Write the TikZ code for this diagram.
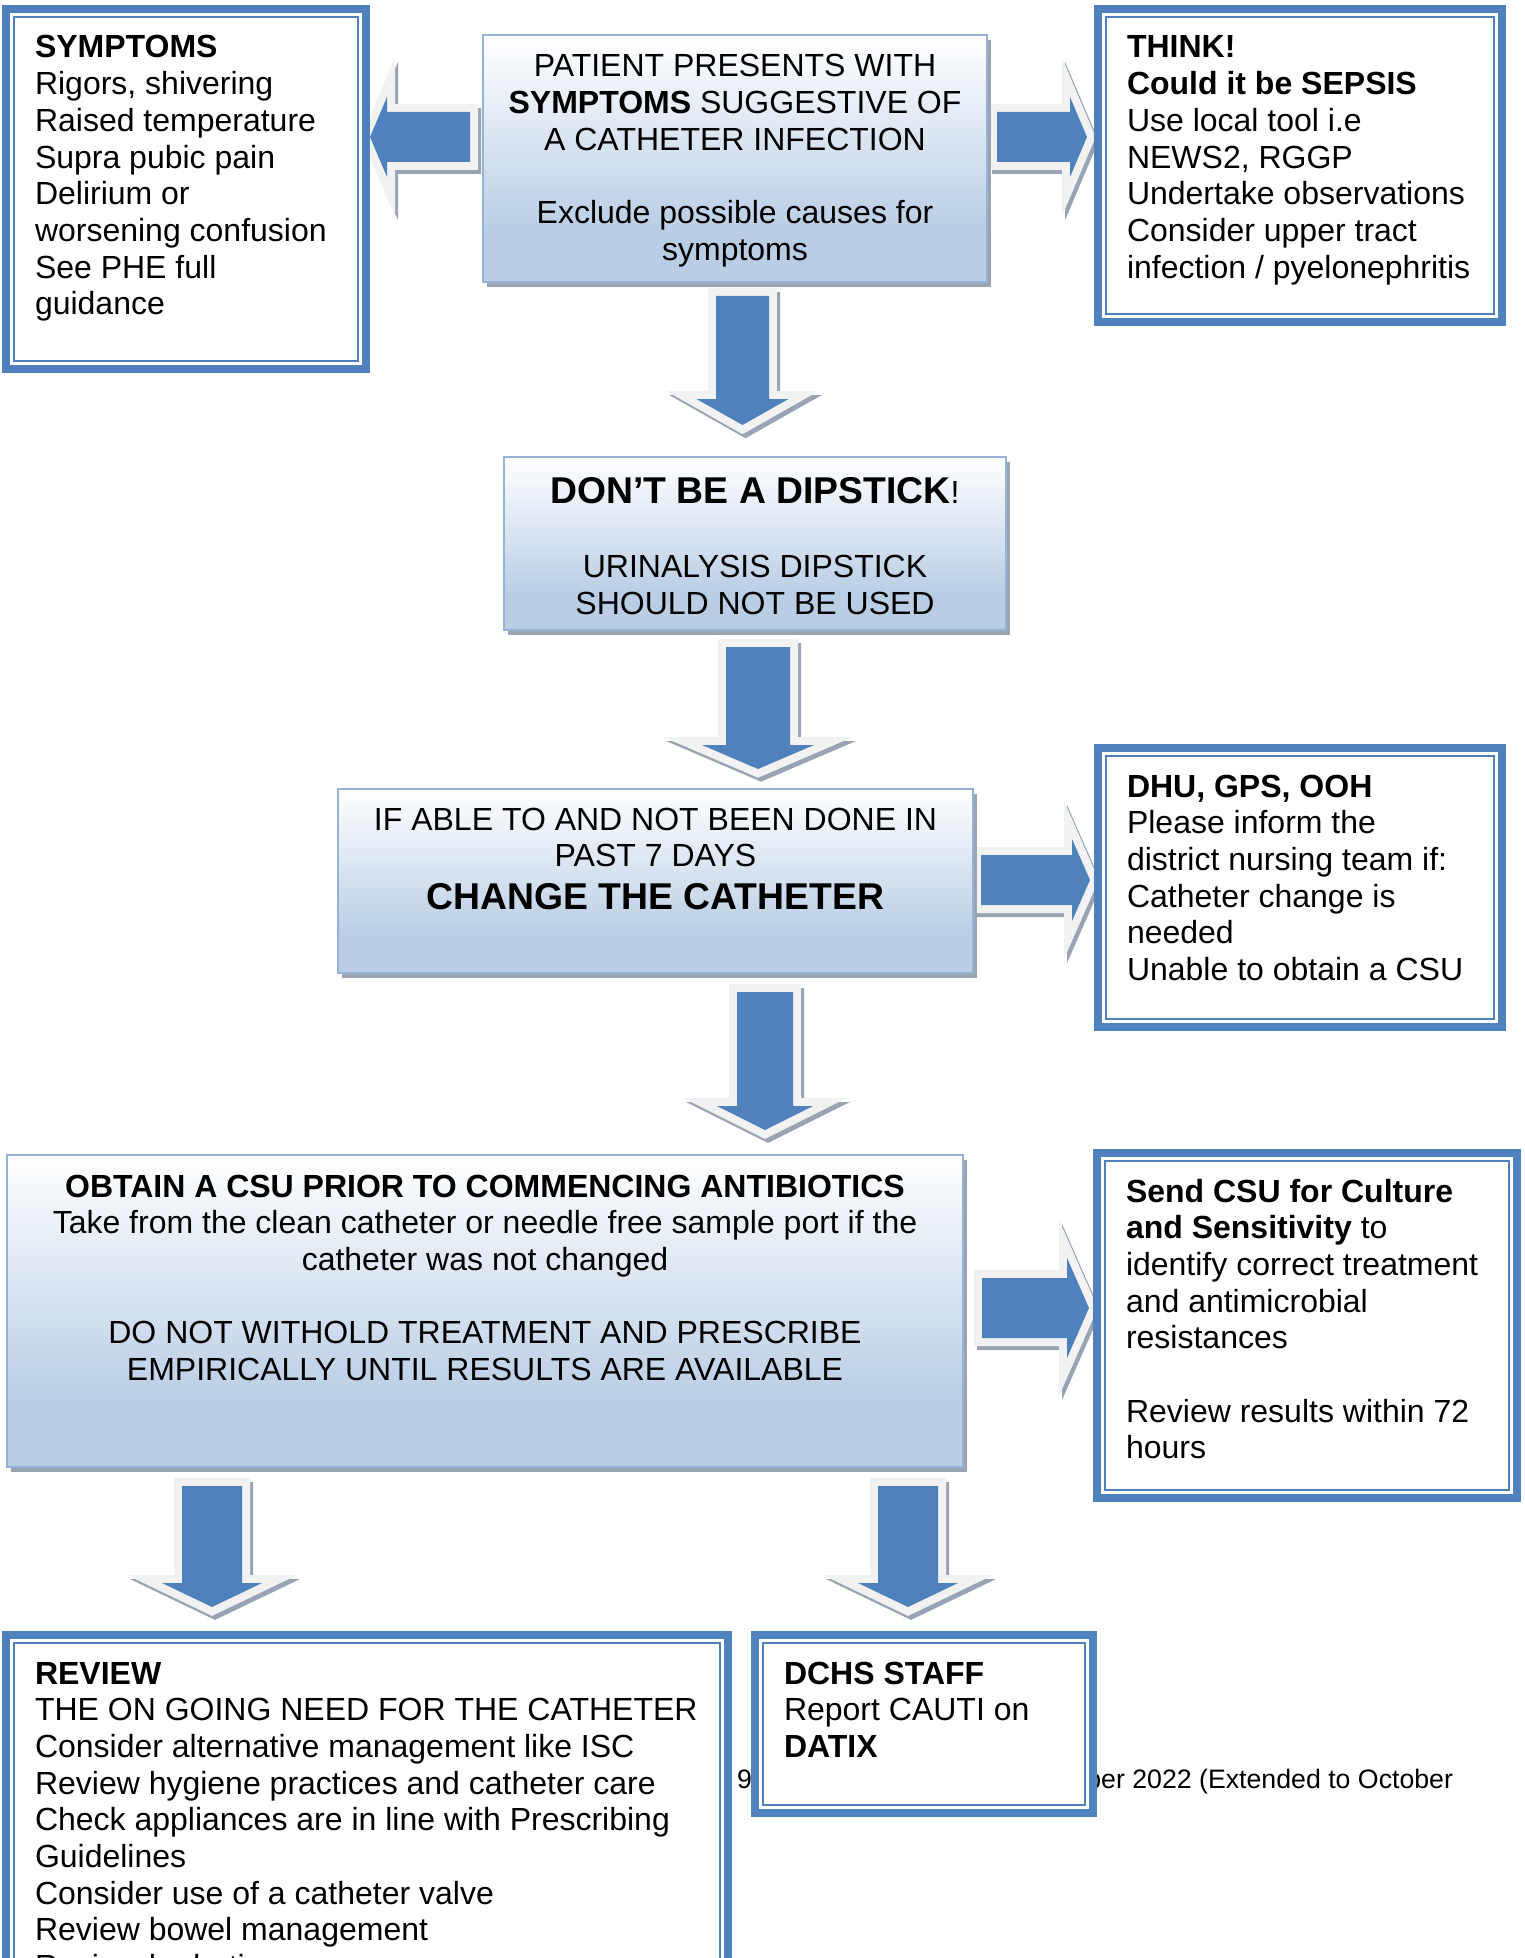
\documentclass[tikz,border=0pt]{standalone}
\usepackage{fontspec}
\setmainfont{Liberation Sans}
\usetikzlibrary{calc,shadows,backgrounds}

\definecolor{accent}{RGB}{79,129,189}
\definecolor{bandlight}{RGB}{242,242,242}
\definecolor{arrowshadow}{RGB}{152,164,180}
\definecolor{fadeborder}{RGB}{149,179,215}
\definecolor{fadebottom}{RGB}{185,205,229}
\definecolor{boxshadow}{RGB}{155,165,178}

% white at the top of a step box, pale blue over its lower part
\pgfdeclareverticalshading{boxfade}{100bp}{color(0bp)=(fadebottom); color(35bp)=(fadebottom); color(75bp)=(white); color(100bp)=(white)}

% fixes the height of the first line so text can be placed by its baseline
\newcommand\capstrut{\rule{0pt}{30pt}}

\tikzset{
  dblbox/.style={rectangle, draw=accent, line width=8pt, fill=white, inner sep=0pt, outer sep=0pt},
  innerline/.style={draw=accent, line width=2pt},
  fadebox/.style={rectangle, draw=fadeborder, line width=2pt, shading=boxfade, inner sep=0pt, outer sep=0pt,
    drop shadow={shadow xshift=4pt, shadow yshift=-5pt, fill=boxshadow, opacity=1}},
  txt/.style={inner sep=0pt, outer sep=0pt, align=left, anchor=north west},
  ctxt/.style={inner sep=0pt, outer sep=0pt, align=center, anchor=north},
  foot/.style={inner sep=0pt, outer sep=0pt, font=\fontsize{26.7}{30.7}\selectfont},
  blk/.style={fill=accent,
    preaction={fill=arrowshadow, draw=arrowshadow, line width=16pt, line join=miter,
               transform canvas={shift={(3pt,-4pt)}}},
    preaction={draw=bandlight, line width=16pt, line join=miter}},
}

% block arrow pointing down: source, target, centre x, tail gap, tip gap, shaft half width, head half width, head length
\newcommand\vblock[8]{%
  \path[blk] let \p1=(#1.south), \p2=(#2.north) in
    ({#3pt-#6pt},{\y1-#4pt}) -- ({#3pt+#6pt},{\y1-#4pt})
    -- ({#3pt+#6pt},{\y2+#5pt+#8pt}) -- ({#3pt+#7pt},{\y2+#5pt+#8pt})
    -- ({#3pt},{\y2+#5pt})
    -- ({#3pt-#7pt},{\y2+#5pt+#8pt}) -- ({#3pt-#6pt},{\y2+#5pt+#8pt}) -- cycle;}

% block arrow pointing right: source, target, centre y, tail gap, tip gap, shaft half width, head half width, head length
\newcommand\rblock[8]{%
  \path[blk] let \p1=(#1.east), \p2=(#2.west) in
    ({\x1+#4pt},{-#3pt+#6pt}) -- ({\x2-#5pt-#8pt},{-#3pt+#6pt})
    -- ({\x2-#5pt-#8pt},{-#3pt+#7pt}) -- ({\x2-#5pt},{-#3pt})
    -- ({\x2-#5pt-#8pt},{-#3pt-#7pt}) -- ({\x2-#5pt-#8pt},{-#3pt-#6pt})
    -- ({\x1+#4pt},{-#3pt-#6pt}) -- cycle;}

% block arrow pointing left: same arguments
\newcommand\lblock[8]{%
  \path[blk] let \p1=(#1.west), \p2=(#2.east) in
    ({\x1-#4pt},{-#3pt+#6pt}) -- ({\x2+#5pt+#8pt},{-#3pt+#6pt})
    -- ({\x2+#5pt+#8pt},{-#3pt+#7pt}) -- ({\x2+#5pt},{-#3pt})
    -- ({\x2+#5pt+#8pt},{-#3pt-#7pt}) -- ({\x2+#5pt+#8pt},{-#3pt-#6pt})
    -- ({\x1-#4pt},{-#3pt-#6pt}) -- cycle;}

\begin{document}
\begin{tikzpicture}[x=1pt, y=-1pt, font=\fontsize{32}{36.7}\selectfont]
\useasboundingbox (0,0) rectangle (1524,1958);
\clip (0,0) rectangle (1524,1958);

% ---- framed information boxes
\node[dblbox, minimum width=360, minimum height=360, anchor=north west] (sym) at (6,9) {};
\node[dblbox, minimum width=404, minimum height=313, anchor=north west] (think) at (1098,9) {};
\node[dblbox, minimum width=404, minimum height=279, anchor=north west] (dhu) at (1098,748) {};
\node[dblbox, minimum width=420, minimum height=345, anchor=north west] (csu) at (1097,1153) {};
\node[dblbox, minimum width=338, minimum height=178, anchor=north west] (dchs) at (755,1635) {};
\node[dblbox, minimum width=722, minimum height=560, anchor=north west] (review) at (6,1635) {};
\foreach \b in {sym,think,dhu,csu,dchs,review}
  \draw[innerline] ($(\b.north west)+(8,8)$) rectangle ($(\b.south east)+(-8,-8)$);

% ---- shaded step boxes
\node[fadebox, minimum width=504, minimum height=247, anchor=north west] (patient) at (483,35) {};
\node[fadebox, minimum width=502, minimum height=173, anchor=north west] (dip) at (504,457) {};
\node[fadebox, minimum width=635, minimum height=184, anchor=north west] (change) at (338,789) {};
\node[fadebox, minimum width=956, minimum height=312, anchor=north west] (obtain) at (7,1155) {};

% ---- texts
\node[txt] (symT) at ($(sym.north west)+(29,19)$)
  {\capstrut\textbf{SYMPTOMS}\\Rigors, shivering\\Raised temperature\\Supra pubic pain\\Delirium or\\worsening confusion\\See PHE full\\guidance};
\node[txt] (thinkT) at ($(think.north west)+(29,19)$)
  {\capstrut\textbf{THINK!}\\\textbf{Could it be SEPSIS}\\Use local tool i.e\\NEWS2, RGGP\\Undertake observations\\Consider upper tract\\infection / pyelonephritis};
\node[txt] (dhuT) at ($(dhu.north west)+(29,19)$)
  {\capstrut\textbf{DHU, GPS, OOH}\\Please inform the\\district nursing team if:\\Catheter change is\\needed\\Unable to obtain a CSU};
\node[txt] (csuT) at ($(csu.north west)+(29,19)$)
  {\capstrut\textbf{Send CSU for Culture}\\\textbf{and Sensitivity} to\\identify correct treatment\\and antimicrobial\\resistances\\[36.7pt]Review results within 72\\hours};
\node[txt] (dchsT) at ($(dchs.north west)+(29,19)$)
  {\capstrut\textbf{DCHS STAFF}\\Report CAUTI on\\\textbf{DATIX}};
\node[txt] (reviewT) at ($(review.north west)+(29,19)$)
  {\capstrut\textbf{REVIEW}\\THE ON GOING NEED FOR THE CATHETER\\Consider alternative management like ISC\\Review hygiene practices and catheter care\\Check appliances are in line with Prescribing\\Guidelines\\Consider use of a catheter valve\\Review bowel management\\Review hydration};

\node[ctxt] (patientT) at ($(patient.north)+(0,12)$)
  {\capstrut PATIENT PRESENTS WITH\\\textbf{SYMPTOMS} SUGGESTIVE OF\\A CATHETER INFECTION\\[36.7pt]Exclude possible causes for\\symptoms};
\node[ctxt] (dipT) at ($(dip.north)+(0,16)$)
  {\capstrut{\fontsize{37.3}{36.7}\selectfont\bfseries DON'T BE A DIPSTICK}!\\[37.8pt]URINALYSIS DIPSTICK\\SHOULD NOT BE USED};
\node[ctxt] (changeT) at ($(change.north)+(0,11)$)
  {\capstrut IF ABLE TO AND NOT BEEN DONE IN\\PAST 7 DAYS\\[6.5pt]{\fontsize{37.3}{36.7}\selectfont\bfseries CHANGE THE CATHETER}};
\node[ctxt] (obtainT) at ($(obtain.north)+(0,12)$)
  {\capstrut\textbf{OBTAIN A CSU PRIOR TO COMMENCING ANTIBIOTICS}\\Take from the clean catheter or needle free sample port if the\\catheter was not changed\\[36.7pt]DO NOT WITHOLD TREATMENT AND PRESCRIBE\\EMPIRICALLY UNTIL RESULTS ARE AVAILABLE};

% ---- page background, footer line and block arrows, all behind the boxes
\begin{pgfonlayer}{background}
  \fill[white] (0,0) rectangle (1524,1958);
  \node[foot, anchor=base west] (footA) at (737,1788) {9};
  \node[foot, anchor=base east] (footB) at (1453,1788) {ber 2022 (Extended to October};

  \vblock{patient}{dip}{742.5}{14}{32}{26.5}{46}{26}
  \vblock{dip}{change}{758}{17}{20}{32}{56}{24}
  \vblock{change}{obtain}{765}{19}{25}{28}{48}{24}
  \vblock{obtain}{review}{212}{19}{28}{30}{50}{24}
  \vblock{obtain}{dchs}{908}{19}{28}{30}{50}{24}
  \lblock{patient}{sym}{137}{13}{4}{25}{40}{17}
  \rblock{patient}{think}{137}{10}{11}{25}{40}{17}
  \rblock{change}{dhu}{880}{8}{8}{25}{41}{18}
  \rblock{obtain}{csu}{1308}{19}{8}{30}{50}{22}
\end{pgfonlayer}
\end{tikzpicture}
\end{document}
